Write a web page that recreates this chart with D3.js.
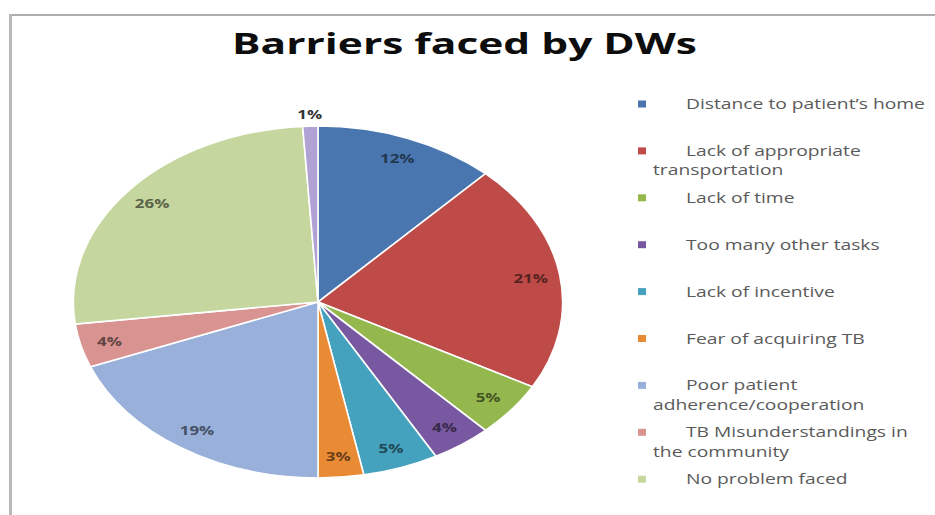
<!DOCTYPE html>
<html>
<head>
<meta charset="utf-8">
<script src="https://cdn.jsdelivr.net/npm/d3@7"></script>
<style>
  body { margin: 0; background: #fff; }
  svg { display: block; }
</style>
</head>
<body>
<svg id="chart" width="935" height="515"></svg>
<script>
// data
var categories = [
    'Distance to patient\u2019s home',
    'Lack of appropriate transportation',
    'Lack of time',
    'Too many other tasks',
    'Lack of incentive',
    'Fear of acquiring TB',
    'Poor patient adherence/cooperation',
    'TB Misunderstandings in the community',
    'No problem faced',
    'Other'
];
var values = [12, 21, 5, 4, 5, 3, 19, 4, 26, 1];
// how the legend wraps each entry (first line is indented in the original)
var legendLines = [
    ['Distance to patient\u2019s home'],
    ['Lack of appropriate', 'transportation'],
    ['Lack of time'],
    ['Too many other tasks'],
    ['Lack of incentive'],
    ['Fear of acquiring TB'],
    ['Poor patient', 'adherence/cooperation'],
    ['TB Misunderstandings in', 'the community'],
    ['No problem faced']
];
var colors = ['#4A76B0', '#BE4B48', '#94B84E', '#7859A1', '#45A2BE', '#E98A35', '#98B0DA', '#D99492', '#C5D79E', '#B0A3D4'];
var title = 'Barriers faced by DWs';

function drawChart() {
    var svg = d3.select('#chart');
    svg.selectAll('*').remove();

    // the whole picture looks stretched sideways
    var sx = 1.39;
    var cx = 318, cy = 302;
    var radius = 176;

    // frame lines
    svg.append('line')
        .attr('x1', 9).attr('x2', 935).attr('y1', 15).attr('y2', 15)
        .attr('stroke', '#adadad').attr('stroke-width', 2);
    svg.append('line')
        .attr('x1', 10.5).attr('x2', 10.5).attr('y1', 14).attr('y2', 515)
        .attr('stroke', '#b8b8b8').attr('stroke-width', 3);

    // title
    var titleText = svg.append('text')
        .text(title)
        .attr('font-family', 'Open Sans')
        .attr('font-weight', 700)
        .attr('font-size', 28)
        .attr('text-anchor', 'middle')
        .attr('fill', '#0d0d0d');
    var tw = titleText.node().getComputedTextLength();
    var tScale = 465 / tw;
    titleText.attr('transform', 'translate(464.5,54) scale(' + tScale + ',1)');

    var pie = d3.pie().sort(null).value(function (d) { return d; });
    var arcs = pie(values);
    var arc = d3.arc().innerRadius(0).outerRadius(radius);

    var pieG = svg.append('g')
        .attr('transform', 'translate(' + cx + ',' + cy + ') scale(' + sx + ',1)');
    pieG.selectAll('path')
        .data(arcs)
        .enter()
        .append('path')
        .attr('d', arc)
        .attr('fill', function (d, i) { return colors[i]; })
        .attr('stroke', '#fff')
        .attr('stroke-width', 1.6)
        .attr('vector-effect', 'non-scaling-stroke');

    // data labels
    var labelArc = d3.arc().innerRadius(radius * 0.88).outerRadius(radius * 0.88);
    var outArc = d3.arc().innerRadius(radius * 1.07).outerRadius(radius * 1.07);
    arcs.forEach(function (d, i) {
        var c = d.value < 2 ? outArc.centroid(d) : labelArc.centroid(d);
        var x = cx + c[0] * sx;
        var y = cy + c[1];
        var col = d.value < 2 ? '#333' : d3.color(colors[i]).darker(2.2).formatHex();
        svg.append('text')
            .text(d.value + '%')
            .attr('font-family', 'Open Sans')
            .attr('font-weight', 700)
            .attr('font-size', 13)
            .attr('text-anchor', 'middle')
            .attr('fill', col)
            .attr('transform', 'translate(' + x + ',' + (y + 5) + ') scale(1.3,1)');
    });

    // legend
    var legTop = 109;
    var legStep = 46.9;
    var lineH = 19.3;
    var legG = svg.append('g');
    var measure = legG.append('text')
        .text(legendLines[0][0])
        .attr('font-family', 'Open Sans')
        .attr('font-size', 14);
    var lScale = 239 / measure.node().getComputedTextLength();
    measure.remove();

    for (var i = 0; i < legendLines.length; i++) {
        var y0 = legTop + i * legStep;
        legG.append('rect')
            .attr('x', 638)
            .attr('y', y0 - 8.5)
            .attr('width', 8)
            .attr('height', 7)
            .attr('fill', colors[i]);
        for (var j = 0; j < legendLines[i].length; j++) {
            legG.append('text')
                .text(legendLines[i][j])
                .attr('font-family', 'Open Sans')
                .attr('font-size', 14)
                .attr('fill', '#5a5a5a')
                .attr('transform', 'translate(' + (j == 0 ? 686 : 653) + ',' + (y0 + j * lineH) + ') scale(' + lScale + ',1)');
        }
    }
}

window.onload = drawChart;
</script>
</body>
</html>
